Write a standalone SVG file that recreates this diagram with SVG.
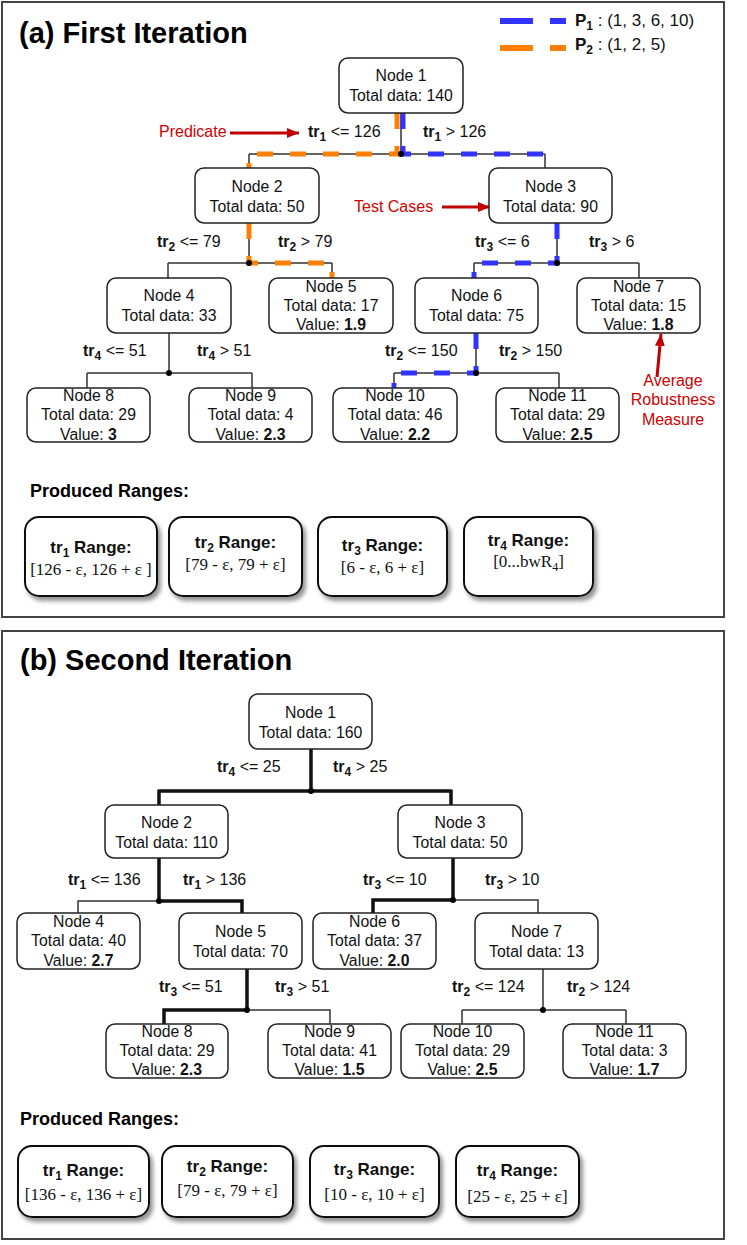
<svg xmlns="http://www.w3.org/2000/svg" width="747" height="1245" viewBox="0 0 747 1245">
<defs>
<style>
.panel{fill:#fff;stroke:#444;stroke-width:2}
.box{fill:#fff;stroke:#222;stroke-width:1.5}
.t{font-family:"Liberation Sans",Arial,sans-serif;font-size:15.8px;fill:#111;text-anchor:middle}
.lbl{font-family:"Liberation Sans",Arial,sans-serif;font-size:16px;fill:#111}
.title{font-family:"Liberation Sans",Arial,sans-serif;font-size:29px;font-weight:bold;fill:#000}
.pr{font-family:"Liberation Sans",Arial,sans-serif;font-size:18px;font-weight:bold;fill:#000}
.b{font-weight:bold}
.sub{font-size:12px;font-weight:bold}
.ln{fill:none;stroke:#333;stroke-width:1.5}
.thk{fill:none;stroke:#111;stroke-width:3.5}
.dot{fill:#000}
.red{font-family:"Liberation Sans",Arial,sans-serif;font-size:16px;fill:#d00000}
.arr{stroke:#c00000;stroke-width:3;fill:none}
.bl{fill:none;stroke:#3333ff;stroke-width:5;stroke-dasharray:16 17}
.or{fill:none;stroke:#ff8000;stroke-width:5;stroke-dasharray:16 17}
.rbox{fill:#fff;stroke:#111;stroke-width:2}
.rt{font-family:"Liberation Sans",Arial,sans-serif;font-size:17px;font-weight:bold;fill:#111;text-anchor:middle}
.rv{font-family:"Liberation Serif","Times New Roman",serif;font-size:17px;fill:#111;text-anchor:middle}
</style>
<marker id="ah" viewBox="0 0 12 10" refX="12" refY="5" markerWidth="12" markerHeight="10" markerUnits="userSpaceOnUse" orient="auto">
<path d="M0,0 L12,5 L0,10 z" fill="#c00000"/>
</marker>
<filter id="sh" x="-20%" y="-20%" width="150%" height="150%">
<feDropShadow dx="3" dy="4" stdDeviation="2" flood-color="#777" flood-opacity="0.8"/>
</filter>
</defs>

<!-- Panel (a) -->
<rect class="panel" x="2" y="2" width="722" height="615"/>
<text class="title" x="19" y="43">(a) First Iteration</text>

<g id="legend">
<path d="M500 21 H566" fill="none" stroke="#3333ff" stroke-width="6" stroke-dasharray="33 17"/>
<path d="M500 48 H566" fill="none" stroke="#ff8000" stroke-width="6" stroke-dasharray="33 17"/>
<text class="lbl" x="575" y="26" style="font-size:17px"><tspan class="b">P</tspan><tspan class="sub" dy="4">1</tspan><tspan dy="-4"> : (1, 3, 6, 10)</tspan></text>
<text class="lbl" x="575" y="50" style="font-size:17px"><tspan class="b">P</tspan><tspan class="sub" dy="4">2</tspan><tspan dy="-4"> : (1, 2, 5)</tspan></text>
</g>

<g id="connectors-a">
<path class="ln" d="M401 113 V154 M249 154 H545 M249 154 V168 M545 154 V168"/>
<path class="ln" d="M249 223 V263 M168 263 H332 M168 263 V278 M332 263 V278"/>
<path class="ln" d="M557 223 V263 M474 263 H639 M474 263 V278 M639 263 V278"/>
<path class="ln" d="M169 333 V373 M87 373 H252 M87 373 V388 M252 373 V388"/>
<path class="ln" d="M476 333 V373 M394 373 H559 M394 373 V388 M559 373 V388"/>
<path class="or" d="M397 113 V154 H249 V168 M249 223 V263 H332 V278"/>
<path class="bl" d="M403 113 V154 H545 V168 M557 223 V263 H474 V278 M476 333 V373 H394 V388"/>
<circle class="dot" cx="401" cy="154" r="3"/>
<circle class="dot" cx="249" cy="263" r="3"/>
<circle class="dot" cx="557" cy="263" r="3"/>
<circle class="dot" cx="169" cy="373" r="3"/>
<circle class="dot" cx="476" cy="373" r="3"/>
<text class="lbl" x="308" y="137"><tspan class="b">tr</tspan><tspan class="sub" dy="4">1</tspan><tspan dy="-4"> &lt;= 126</tspan></text>
<text class="lbl" x="423" y="137"><tspan class="b">tr</tspan><tspan class="sub" dy="4">1</tspan><tspan dy="-4"> &gt; 126</tspan></text>
<text class="lbl" x="157" y="247"><tspan class="b">tr</tspan><tspan class="sub" dy="4">2</tspan><tspan dy="-4"> &lt;= 79</tspan></text>
<text class="lbl" x="278" y="247"><tspan class="b">tr</tspan><tspan class="sub" dy="4">2</tspan><tspan dy="-4"> &gt; 79</tspan></text>
<text class="lbl" x="475" y="247"><tspan class="b">tr</tspan><tspan class="sub" dy="4">3</tspan><tspan dy="-4"> &lt;= 6</tspan></text>
<text class="lbl" x="589" y="247"><tspan class="b">tr</tspan><tspan class="sub" dy="4">3</tspan><tspan dy="-4"> &gt; 6</tspan></text>
<text class="lbl" x="83" y="356"><tspan class="b">tr</tspan><tspan class="sub" dy="4">4</tspan><tspan dy="-4"> &lt;= 51</tspan></text>
<text class="lbl" x="197" y="356"><tspan class="b">tr</tspan><tspan class="sub" dy="4">4</tspan><tspan dy="-4"> &gt; 51</tspan></text>
<text class="lbl" x="385" y="356"><tspan class="b">tr</tspan><tspan class="sub" dy="4">2</tspan><tspan dy="-4"> &lt;= 150</tspan></text>
<text class="lbl" x="499" y="356"><tspan class="b">tr</tspan><tspan class="sub" dy="4">2</tspan><tspan dy="-4"> &gt; 150</tspan></text>
</g>

<g id="annotations">
<text class="red" x="159" y="137">Predicate</text>
<line class="arr" x1="230" y1="133" x2="299" y2="133" marker-end="url(#ah)"/>
<text class="red" x="354" y="212">Test Cases</text>
<line class="arr" x1="442" y1="207" x2="490" y2="207" marker-end="url(#ah)"/>
<line class="arr" x1="657" y1="377" x2="661" y2="334" marker-end="url(#ah)"/>
<text class="red" x="673" y="386" text-anchor="middle">Average</text>
<text class="red" x="673" y="405" text-anchor="middle">Robustness</text>
<text class="red" x="673" y="425" text-anchor="middle">Measure</text>
</g>

<g id="a-node1"><rect class="box" x="339" y="58" width="124" height="55" rx="9"/><text class="t" x="401" y="81">Node 1</text><text class="t" x="401" y="101">Total data: 140</text></g>
<g id="a-node2"><rect class="box" x="195" y="168" width="124" height="55" rx="9"/><text class="t" x="257" y="192">Node 2</text><text class="t" x="257" y="212">Total data: 50</text></g>
<g id="a-node3"><rect class="box" x="489" y="168" width="123" height="55" rx="9"/><text class="t" x="550.5" y="192">Node 3</text><text class="t" x="550.5" y="212">Total data: 90</text></g>
<g id="a-node4"><rect class="box" x="107" y="278" width="124" height="55" rx="9"/><text class="t" x="169" y="301">Node 4</text><text class="t" x="169" y="321">Total data: 33</text></g>
<g id="a-node5"><rect class="box" x="269" y="278" width="124" height="55" rx="9"/><text class="t" x="331" y="292">Node 5</text><text class="t" x="331" y="311">Total data: 17</text><text class="t" x="331" y="330">Value: <tspan class="b">1.9</tspan></text></g>
<g id="a-node6"><rect class="box" x="415" y="278" width="123" height="55" rx="9"/><text class="t" x="476.5" y="301">Node 6</text><text class="t" x="476.5" y="321">Total data: 75</text></g>
<g id="a-node7"><rect class="box" x="577" y="278" width="123" height="55" rx="9"/><text class="t" x="638.5" y="292">Node 7</text><text class="t" x="638.5" y="311">Total data: 15</text><text class="t" x="638.5" y="330">Value: <tspan class="b">1.8</tspan></text></g>
<g id="a-node8"><rect class="box" x="27" y="388" width="123" height="54" rx="9"/><text class="t" x="88.5" y="401">Node 8</text><text class="t" x="88.5" y="420">Total data: 29</text><text class="t" x="88.5" y="440">Value: <tspan class="b">3</tspan></text></g>
<g id="a-node9"><rect class="box" x="189" y="388" width="123" height="54" rx="9"/><text class="t" x="250.5" y="401">Node 9</text><text class="t" x="250.5" y="420">Total data: 4</text><text class="t" x="250.5" y="440">Value: <tspan class="b">2.3</tspan></text></g>
<g id="a-node10"><rect class="box" x="333" y="388" width="124" height="54" rx="9"/><text class="t" x="395" y="401">Node 10</text><text class="t" x="395" y="420">Total data: 46</text><text class="t" x="395" y="440">Value: <tspan class="b">2.2</tspan></text></g>
<g id="a-node11"><rect class="box" x="496" y="388" width="123" height="54" rx="9"/><text class="t" x="557.5" y="401">Node 11</text><text class="t" x="557.5" y="420">Total data: 29</text><text class="t" x="557.5" y="440">Value: <tspan class="b">2.5</tspan></text></g>

<g id="a-ranges">
<text class="pr" x="30" y="497">Produced Ranges:</text>
<g filter="url(#sh)">
<rect class="rbox" x="25" y="517" width="132" height="79" rx="14"/>
<rect class="rbox" x="169" y="517" width="133" height="79" rx="14"/>
<rect class="rbox" x="318" y="517" width="129" height="79" rx="14"/>
<rect class="rbox" x="464" y="517" width="129" height="79" rx="14"/>
</g>
<text class="rt" x="91" y="553">tr<tspan class="sub" dy="4">1</tspan><tspan dy="-4"> Range:</tspan></text>
<text class="rv" x="91" y="575">[126 - ε, 126 + ε ]</text>
<text class="rt" x="235.5" y="548">tr<tspan class="sub" dy="4">2</tspan><tspan dy="-4"> Range:</tspan></text>
<text class="rv" x="235.5" y="570">[79 - ε, 79 + ε]</text>
<text class="rt" x="382.5" y="551">tr<tspan class="sub" dy="4">3</tspan><tspan dy="-4"> Range:</tspan></text>
<text class="rv" x="382.5" y="573">[6 - ε, 6 + ε]</text>
<text class="rt" x="528.5" y="546">tr<tspan class="sub" dy="4">4</tspan><tspan dy="-4"> Range:</tspan></text>
<text class="rv" x="528.5" y="567">[0...bwR<tspan dy="4" style="font-size:12px">4</tspan><tspan dy="-4">]</tspan></text>
</g>

<!-- Panel (b) -->
<rect class="panel" x="2" y="631" width="722" height="608"/>
<text class="title" x="20" y="670">(b) Second Iteration</text>

<g id="connectors-b">
<path class="thk" d="M311 749 V791 M159 791 H451 M159 789.5 V805 M451 789.5 V805"/>
<path class="thk" d="M159 858 V901 H242 V913"/>
<path class="ln" d="M159 901 H78 V913"/>
<path class="thk" d="M453 858 V900 H373 V913"/>
<path class="ln" d="M453 900 H538 V913"/>
<path class="thk" d="M247 969 V1010 H164 V1024"/>
<path class="ln" d="M247 1010 H330 V1024"/>
<path class="ln" d="M543 969 V1010 M462 1010 H626 M462 1010 V1024 M626 1010 V1024"/>
<circle class="dot" cx="311" cy="791" r="3"/>
<circle class="dot" cx="159" cy="901" r="3"/>
<circle class="dot" cx="453" cy="900" r="3"/>
<circle class="dot" cx="247" cy="1010" r="3"/>
<circle class="dot" cx="543" cy="1010" r="3"/>
<text class="lbl" x="217" y="772"><tspan class="b">tr</tspan><tspan class="sub" dy="4">4</tspan><tspan dy="-4"> &lt;= 25</tspan></text>
<text class="lbl" x="333" y="772"><tspan class="b">tr</tspan><tspan class="sub" dy="4">4</tspan><tspan dy="-4"> &gt; 25</tspan></text>
<text class="lbl" x="68" y="885"><tspan class="b">tr</tspan><tspan class="sub" dy="4">1</tspan><tspan dy="-4"> &lt;= 136</tspan></text>
<text class="lbl" x="183" y="885"><tspan class="b">tr</tspan><tspan class="sub" dy="4">1</tspan><tspan dy="-4"> &gt; 136</tspan></text>
<text class="lbl" x="363" y="885"><tspan class="b">tr</tspan><tspan class="sub" dy="4">3</tspan><tspan dy="-4"> &lt;= 10</tspan></text>
<text class="lbl" x="485" y="885"><tspan class="b">tr</tspan><tspan class="sub" dy="4">3</tspan><tspan dy="-4"> &gt; 10</tspan></text>
<text class="lbl" x="159" y="992"><tspan class="b">tr</tspan><tspan class="sub" dy="4">3</tspan><tspan dy="-4"> &lt;= 51</tspan></text>
<text class="lbl" x="275" y="992"><tspan class="b">tr</tspan><tspan class="sub" dy="4">3</tspan><tspan dy="-4"> &gt; 51</tspan></text>
<text class="lbl" x="452" y="992"><tspan class="b">tr</tspan><tspan class="sub" dy="4">2</tspan><tspan dy="-4"> &lt;= 124</tspan></text>
<text class="lbl" x="567" y="992"><tspan class="b">tr</tspan><tspan class="sub" dy="4">2</tspan><tspan dy="-4"> &gt; 124</tspan></text>
</g>

<g id="b-node1"><rect class="box" x="249" y="694" width="123" height="55" rx="9"/><text class="t" x="310.5" y="718">Node 1</text><text class="t" x="310.5" y="738">Total data: 160</text></g>
<g id="b-node2"><rect class="box" x="105" y="805" width="123" height="53" rx="9"/><text class="t" x="166.5" y="828">Node 2</text><text class="t" x="166.5" y="848">Total data: 110</text></g>
<g id="b-node3"><rect class="box" x="398" y="805" width="124" height="53" rx="9"/><text class="t" x="460" y="828">Node 3</text><text class="t" x="460" y="848">Total data: 50</text></g>
<g id="b-node4"><rect class="box" x="17" y="913" width="123" height="56" rx="9"/><text class="t" x="78.5" y="927">Node 4</text><text class="t" x="78.5" y="946">Total data: 40</text><text class="t" x="78.5" y="966">Value: <tspan class="b">2.7</tspan></text></g>
<g id="b-node5"><rect class="box" x="179" y="913" width="123" height="56" rx="9"/><text class="t" x="240.5" y="937">Node 5</text><text class="t" x="240.5" y="957">Total data: 70</text></g>
<g id="b-node6"><rect class="box" x="313" y="913" width="123" height="56" rx="9"/><text class="t" x="374.5" y="927">Node 6</text><text class="t" x="374.5" y="946">Total data: 37</text><text class="t" x="374.5" y="966">Value: <tspan class="b">2.0</tspan></text></g>
<g id="b-node7"><rect class="box" x="475" y="913" width="123" height="56" rx="9"/><text class="t" x="536.5" y="937">Node 7</text><text class="t" x="536.5" y="957">Total data: 13</text></g>
<g id="b-node8"><rect class="box" x="106" y="1024" width="122" height="54" rx="9"/><text class="t" x="167" y="1037">Node 8</text><text class="t" x="167" y="1056">Total data: 29</text><text class="t" x="167" y="1075">Value: <tspan class="b">2.3</tspan></text></g>
<g id="b-node9"><rect class="box" x="268" y="1024" width="123" height="54" rx="9"/><text class="t" x="329.5" y="1037">Node 9</text><text class="t" x="329.5" y="1056">Total data: 41</text><text class="t" x="329.5" y="1075">Value: <tspan class="b">1.5</tspan></text></g>
<g id="b-node10"><rect class="box" x="401" y="1024" width="123" height="54" rx="9"/><text class="t" x="462.5" y="1037">Node 10</text><text class="t" x="462.5" y="1056">Total data: 29</text><text class="t" x="462.5" y="1075">Value: <tspan class="b">2.5</tspan></text></g>
<g id="b-node11"><rect class="box" x="563" y="1024" width="123" height="54" rx="9"/><text class="t" x="624.5" y="1037">Node 11</text><text class="t" x="624.5" y="1056">Total data: 3</text><text class="t" x="624.5" y="1075">Value: <tspan class="b">1.7</tspan></text></g>

<g id="b-ranges">
<text class="pr" x="20" y="1125">Produced Ranges:</text>
<g filter="url(#sh)">
<rect class="rbox" x="18" y="1146" width="131" height="71" rx="14"/>
<rect class="rbox" x="162" y="1146" width="131" height="71" rx="14"/>
<rect class="rbox" x="310" y="1146" width="129" height="71" rx="14"/>
<rect class="rbox" x="456" y="1146" width="123" height="71" rx="14"/>
</g>
<text class="rt" x="83.5" y="1176">tr<tspan class="sub" dy="4">1</tspan><tspan dy="-4"> Range:</tspan></text>
<text class="rv" x="83.5" y="1200">[136 - ε, 136 + ε]</text>
<text class="rt" x="227.5" y="1172">tr<tspan class="sub" dy="4">2</tspan><tspan dy="-4"> Range:</tspan></text>
<text class="rv" x="227.5" y="1196">[79 - ε, 79 + ε]</text>
<text class="rt" x="374.5" y="1175">tr<tspan class="sub" dy="4">3</tspan><tspan dy="-4"> Range:</tspan></text>
<text class="rv" x="374.5" y="1200">[10 - ε, 10 + ε]</text>
<text class="rt" x="517.5" y="1176">tr<tspan class="sub" dy="4">4</tspan><tspan dy="-4"> Range:</tspan></text>
<text class="rv" x="517.5" y="1202">[25 - ε, 25 + ε]</text>
</g>
</svg>
